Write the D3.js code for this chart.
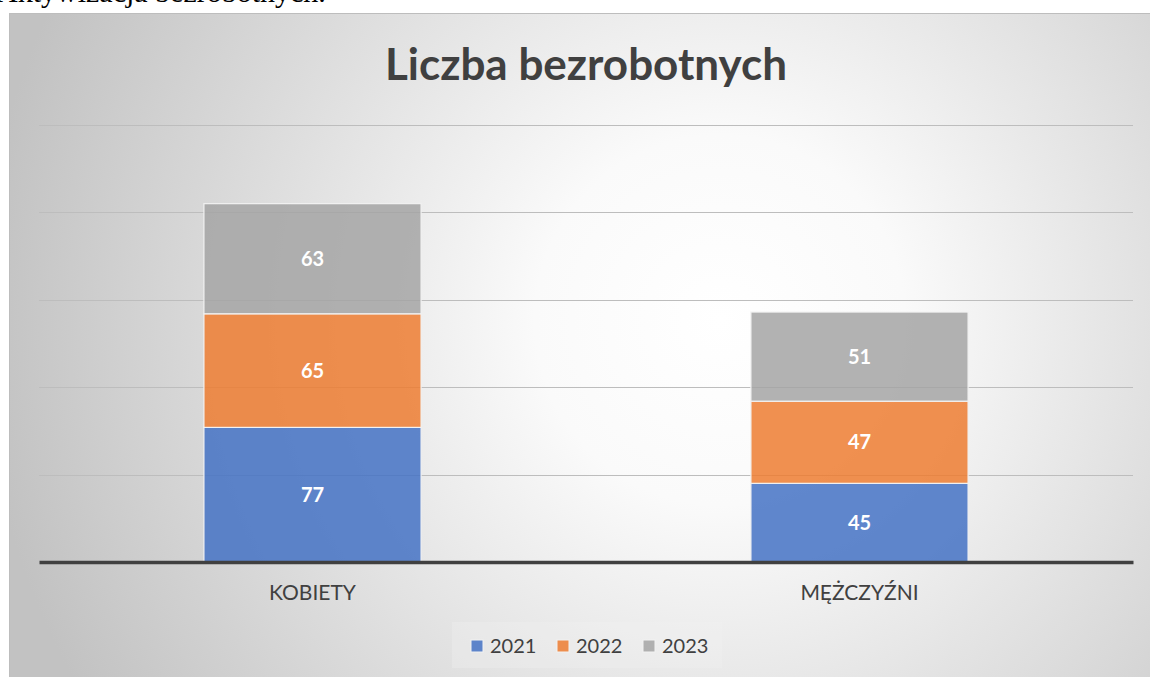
<!DOCTYPE html>
<html>
<head>
<meta charset="utf-8">
<script src="https://cdn.jsdelivr.net/npm/d3@7"></script>
<style>
  body { margin: 0; background: #fff; overflow: hidden; }
  svg { display: block; }
</style>
</head>
<body>
<svg id="chart"></svg>
<script>
// data
let categories = ['KOBIETY', 'MĘŻCZYŹNI'];
let years = ['2021', '2022', '2023'];
let values2021 = [77, 45];
let values2022 = [65, 47];
let values2023 = [63, 51];
let yTicks = [0, 50, 100, 150, 200, 250];
let seriesColors = ['#4472C4', '#ED7D31', '#A5A5A5'];

let width = 1150, height = 677;
let plot = {left: 39, right: 1133, top: 125, bottom: 562};

let svg = d3.select('#chart')
  .attr('width', width)
  .attr('height', height);

// background gradient like the office chart style
let defs = svg.append('defs');
let grad = defs.append('radialGradient')
  .attr('id', 'bg')
  .attr('gradientUnits', 'userSpaceOnUse')
  .attr('cx', 720).attr('cy', 320).attr('r', 740);
grad.append('stop').attr('offset', '0').attr('stop-color', '#ffffff');
grad.append('stop').attr('offset', '0.25').attr('stop-color', '#fafafa');
grad.append('stop').attr('offset', '1').attr('stop-color', '#c2c2c2');

// clipped line of document text above the chart
svg.append('text')
  .attr('x', -4)
  .attr('y', 2)
  .attr('font-family', '"Liberation Serif", serif')
  .attr('font-size', 30)
  .attr('fill', '#000')
  .text('Aktywizacja bezrobotnych.');

svg.append('rect')
  .attr('x', 9.5).attr('y', 13.5)
  .attr('width', width).attr('height', height)
  .attr('fill', 'url(#bg)')
  .attr('stroke', '#bdbdbd');

// title
svg.append('text')
  .attr('x', 586)
  .attr('y', 80)
  .attr('text-anchor', 'middle')
  .attr('font-family', 'Lato, "Open Sans", sans-serif')
  .attr('font-weight', 'bold')
  .attr('font-size', 44)
  .attr('fill', '#404040')
  .text('Liczba bezrobotnych');

let table = categories.map((c, i) => ({
  category: c,
  '2021': values2021[i],
  '2022': values2022[i],
  '2023': values2023[i]
}));

let stacked = d3.stack().keys(years)(table);

let xScale = d3.scaleBand()
  .domain(categories)
  .range([plot.left, plot.right])
  .paddingInner(0.603)
  .paddingOuter(0.3015);

let yScale = d3.scaleLinear()
  .domain([0, 250])
  .range([plot.bottom, plot.top]);

let color = d3.scaleOrdinal().domain(years).range(seriesColors);

// gridlines
svg.append('g')
  .selectAll('line')
  .data(yTicks.filter((d) => d > 0))
  .enter()
  .append('line')
  .attr('x1', plot.left).attr('x2', plot.right)
  .attr('y1', (d) => Math.round(yScale(d)) + 0.5)
  .attr('y2', (d) => Math.round(yScale(d)) + 0.5)
  .attr('stroke', '#bdbdbd')
  .attr('stroke-width', 1);

// bars
let groups = svg.append('g')
  .selectAll('g')
  .data(stacked)
  .enter()
  .append('g')
  .attr('fill', (d) => color(d.key));

groups.selectAll('rect')
  .data((d) => d)
  .enter()
  .append('rect')
  .attr('x', (d) => xScale(d.data.category))
  .attr('y', (d) => yScale(d[1]))
  .attr('width', xScale.bandwidth())
  .attr('height', (d) => yScale(d[0]) - yScale(d[1]))
  .attr('fill-opacity', 0.85)
  .attr('stroke', '#f2f2f2')
  .attr('stroke-width', 1.2);

// value labels
groups.selectAll('text')
  .data((d) => d)
  .enter()
  .append('text')
  .attr('x', (d) => xScale(d.data.category) + xScale.bandwidth() / 2)
  .attr('y', (d) => (yScale(d[0]) + yScale(d[1])) / 2)
  .attr('dy', '0.35em')
  .attr('text-anchor', 'middle')
  .attr('font-family', 'Lato, "Open Sans", sans-serif')
  .attr('font-weight', 'bold')
  .attr('font-size', 20)
  .attr('fill', '#ffffff')
  .text((d) => d[1] - d[0]);

// x axis baseline and labels
let xAxis = svg.append('g')
  .attr('transform', 'translate(0,' + plot.bottom + ')')
  .call(d3.axisBottom(xScale).tickSize(0).tickPadding(23));
xAxis.select('.domain')
  .attr('stroke', '#404040')
  .attr('stroke-width', 3.5);
xAxis.selectAll('text')
  .attr('font-family', 'Lato, "Open Sans", sans-serif')
  .attr('font-size', 21)
  .attr('fill', '#404040');

// legend
let legend = svg.append('g');
legend.append('rect')
  .attr('x', 452).attr('y', 622)
  .attr('width', 270).attr('height', 46)
  .attr('fill', '#f2f2f2')
  .attr('fill-opacity', 0.3);

let legendX = [471, 557, 643];
let items = legend.selectAll('.item')
  .data(years)
  .enter()
  .append('g')
  .attr('class', 'item')
  .attr('transform', (d, i) => 'translate(' + legendX[i] + ',640)');
items.append('rect')
  .attr('width', 12).attr('height', 12)
  .attr('fill', (d) => color(d))
  .attr('fill-opacity', 0.85)
  .attr('stroke', '#f2f2f2');
items.append('text')
  .attr('x', 19)
  .attr('y', 6)
  .attr('dy', '0.36em')
  .attr('font-family', 'Lato, "Open Sans", sans-serif')
  .attr('font-size', 20)
  .attr('fill', '#404040')
  .text((d) => d);
</script>
</body>
</html>
